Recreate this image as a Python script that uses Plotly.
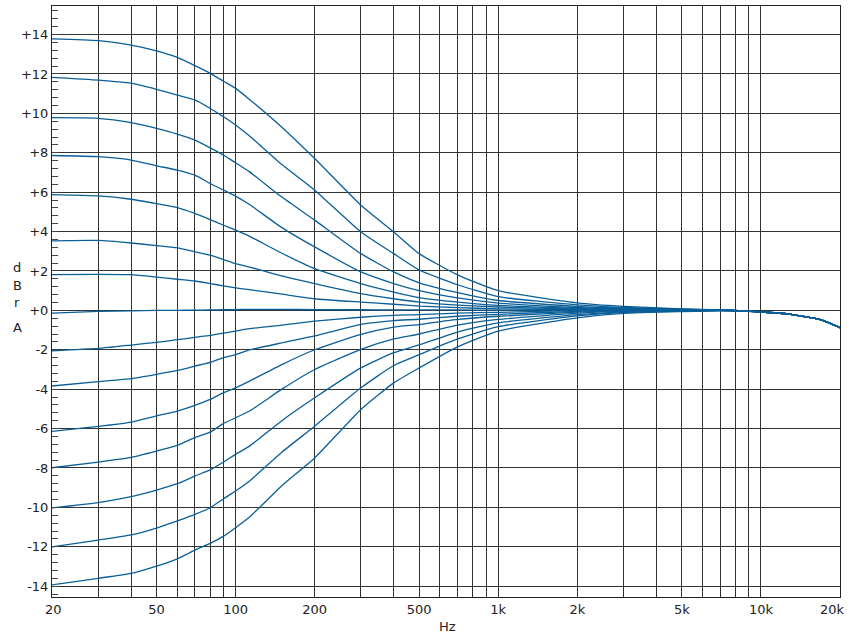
import plotly.graph_objects as go

freqs = [20, 30, 40, 50, 60, 70, 80, 90, 100, 113, 150, 200, 300, 400, 500, 700,
         1000, 2000, 3000, 5000, 7000, 10000, 13000, 17000, 20000]

tail = [-0.08, -0.2, -0.48, -0.88]

boost7 = [13.78, 13.69, 13.46, 13.17, 12.84, 12.42, 12.03, 11.63, 11.27, 10.71, 9.3, 7.71, 5.34, 3.98, 2.88, 1.8, 1.0, 0.38, 0.2, 0.08, 0.02] + tail
boost6 = [11.83, 11.69, 11.53, 11.22, 10.93, 10.68, 10.25, 9.83, 9.41, 8.85, 7.4, 6.1, 3.98, 2.88, 2.05, 1.3, 0.7, 0.28, 0.15, 0.06, 0.02] + tail
boost5 = [9.78, 9.75, 9.53, 9.24, 8.95, 8.64, 8.25, 7.88, 7.49, 7.03, 5.75, 4.58, 2.88, 1.95, 1.4, 0.9, 0.5, 0.2, 0.11, 0.05, 0.02] + tail
boost4 = [7.86, 7.80, 7.63, 7.34, 7.12, 6.86, 6.44, 6.10, 5.80, 5.37, 4.2, 3.22, 1.95, 1.36, 1.0, 0.63, 0.37, 0.14, 0.08, 0.04, 0.02] + tail
boost3 = [5.88, 5.81, 5.64, 5.42, 5.22, 4.92, 4.61, 4.32, 4.07, 3.76, 2.9, 2.12, 1.36, 0.93, 0.65, 0.42, 0.25, 0.1, 0.06, 0.03, 0.02] + tail
boost2 = [3.53, 3.55, 3.42, 3.29, 3.17, 2.97, 2.80, 2.58, 2.37, 2.20, 1.75, 1.36, 0.85, 0.59, 0.42, 0.27, 0.17, 0.07, 0.05, 0.03, 0.02] + tail
boost1 = [1.81, 1.83, 1.81, 1.69, 1.58, 1.49, 1.36, 1.24, 1.14, 1.05, 0.82, 0.59, 0.42, 0.31, 0.22, 0.14, 0.08, 0.04, 0.04, 0.02, 0.02] + tail
flat = [-0.14, -0.05, -0.03, 0.0, 0.0, 0.01, 0.02, 0.03, 0.04, 0.05, 0.05, 0.04, 0.03, 0.02, 0.02, 0.02, 0.01, 0.02, 0.03, 0.02, 0.02] + tail
cut1 = [-2.05, -1.93, -1.76, -1.62, -1.49, -1.37, -1.27, -1.15, -1.05, -0.93, -0.75, -0.55, -0.35, -0.25, -0.22, -0.14, -0.1, -0.01, 0.02, 0.01, 0.02] + tail
cut2 = [-3.84, -3.62, -3.47, -3.25, -3.05, -2.83, -2.64, -2.40, -2.25, -2.01, -1.65, -1.3, -0.71, -0.52, -0.45, -0.3, -0.2, -0.05, 0.0, 0.0, 0.01] + tail
cut3 = [-6.14, -5.89, -5.67, -5.36, -5.11, -4.82, -4.52, -4.18, -3.93, -3.59, -2.75, -2.0, -1.22, -0.85, -0.72, -0.46, -0.3, -0.09, -0.02, -0.01, 0.01] + tail
cut4 = [-7.99, -7.70, -7.46, -7.14, -6.85, -6.46, -6.18, -5.74, -5.45, -5.11, -4.0, -3.0, -1.98, -1.45, -1.2, -0.75, -0.46, -0.14, -0.05, -0.02, 0.0] + tail
cut5 = [-10.03, -9.76, -9.46, -9.12, -8.80, -8.41, -8.10, -7.70, -7.31, -6.89, -5.6, -4.44, -2.92, -2.15, -1.75, -1.1, -0.63, -0.22, -0.08, -0.03, 0.0] + tail
cut6 = [-12.01, -11.66, -11.40, -11.05, -10.69, -10.36, -10.02, -9.56, -9.17, -8.66, -7.2, -5.88, -3.93, -2.8, -2.25, -1.45, -0.83, -0.28, -0.1, -0.04, -0.01] + tail
cut7 = [-13.93, -13.60, -13.35, -12.98, -12.61, -12.17, -11.83, -11.46, -11.03, -10.49, -8.9, -7.49, -5.03, -3.68, -2.92, -1.85, -1.05, -0.38, -0.15, -0.06, -0.02] + tail

curves = [boost7, boost6, boost5, boost4, boost3, boost2, boost1, flat,
          cut1, cut2, cut3, cut4, cut5, cut6, cut7]

x_grid = [20, 30, 40, 50, 60, 70, 80, 90, 100, 200, 300, 400, 500, 600, 700, 800, 900,
          1000, 2000, 3000, 4000, 5000, 6000, 7000, 8000, 9000, 10000, 20000]
x_labels = {20: "\u200920", 50: "50", 100: "100", 200: "200", 500: "500", 1000: "1k",
            2000: "2k", 5000: "5k", 10000: "10k"}
edge_label = "20k"   # label of the 20000 grid line, drawn right-aligned at the plot edge
y_ticks = [-14, -12, -10, -8, -6, -4, -2, 0, 2, 4, 6, 8, 10, 12, 14]
y_labels = ["-14", "-12", "-10", "-8", "-6", "-4", "-2", "+0", "+2", "+4", "+6", "+8", "+10", "+12", "+14"]

line_color = "#0a5f98"
grid_color = "#333333"
font = "DejaVu Sans"

fig = go.Figure()
for ys in curves:
    fig.add_trace(go.Scatter(x=freqs, y=ys, mode="lines",
                             line=dict(color=line_color, width=1.3, shape="spline", smoothing=0.5),
                             showlegend=False, hoverinfo="skip"))

fig.update_layout(
    width=851, height=634,
    margin=dict(l=52, r=11, t=6, b=37),
    paper_bgcolor="white", plot_bgcolor="white",
    font=dict(family=font, size=13, color="#222222"),
    showlegend=False,
)
fig.update_xaxes(
    type="log", range=[1.30102, 4.30105],
    tickmode="array", tickvals=x_grid,
    ticktext=[x_labels.get(v, "") for v in x_grid],
    automargin=False,
    showgrid=True, gridcolor=grid_color, gridwidth=1,
    showline=True, linecolor="#222222", linewidth=1, mirror=True,
    ticks="", tickfont=dict(size=13), zeroline=False,
)
fig.update_yaxes(
    range=[-14.55, 15.45], automargin=False,
    tickmode="array", tickvals=y_ticks, ticktext=y_labels,
    showgrid=True, gridcolor=grid_color, gridwidth=1,
    showline=True, linecolor="#222222", linewidth=1, mirror=True,
    ticks="inside", ticklen=6, tickcolor="#444444",
    tickfont=dict(size=13), zeroline=False,
    minor=dict(tick0=0, dtick=0.4, ticks="inside", ticklen=6,
               tickcolor="#444444", showgrid=False),
)

def px_to_paper_y(ypx):
    return (597 - ypx) / 591.0

def px_to_paper_x(xpx):
    return (xpx - 52) / 788.0

fig.add_annotation(text=edge_label, xref="paper", yref="paper",
                   x=px_to_paper_x(847), y=px_to_paper_y(609),
                   showarrow=False, xanchor="right", yanchor="middle",
                   font=dict(family=font, size=13, color="#222222"))

for letter, ypx in [("d", 267), ("B", 285), ("r", 302), ("A", 328)]:
    fig.add_annotation(text=letter, xref="paper", yref="paper",
                       x=px_to_paper_x(17), y=px_to_paper_y(ypx),
                       showarrow=False, xanchor="center", yanchor="middle",
                       font=dict(family=font, size=13, color="#222222"))

fig.add_annotation(text="Hz", xref="paper", yref="paper",
                   x=px_to_paper_x(447), y=px_to_paper_y(626),
                   showarrow=False, xanchor="center", yanchor="middle",
                   font=dict(family=font, size=13, color="#222222"))

fig.write_html("out.html", config={"displayModeBar": False},
               post_script="document.body.style.margin='0px';")
